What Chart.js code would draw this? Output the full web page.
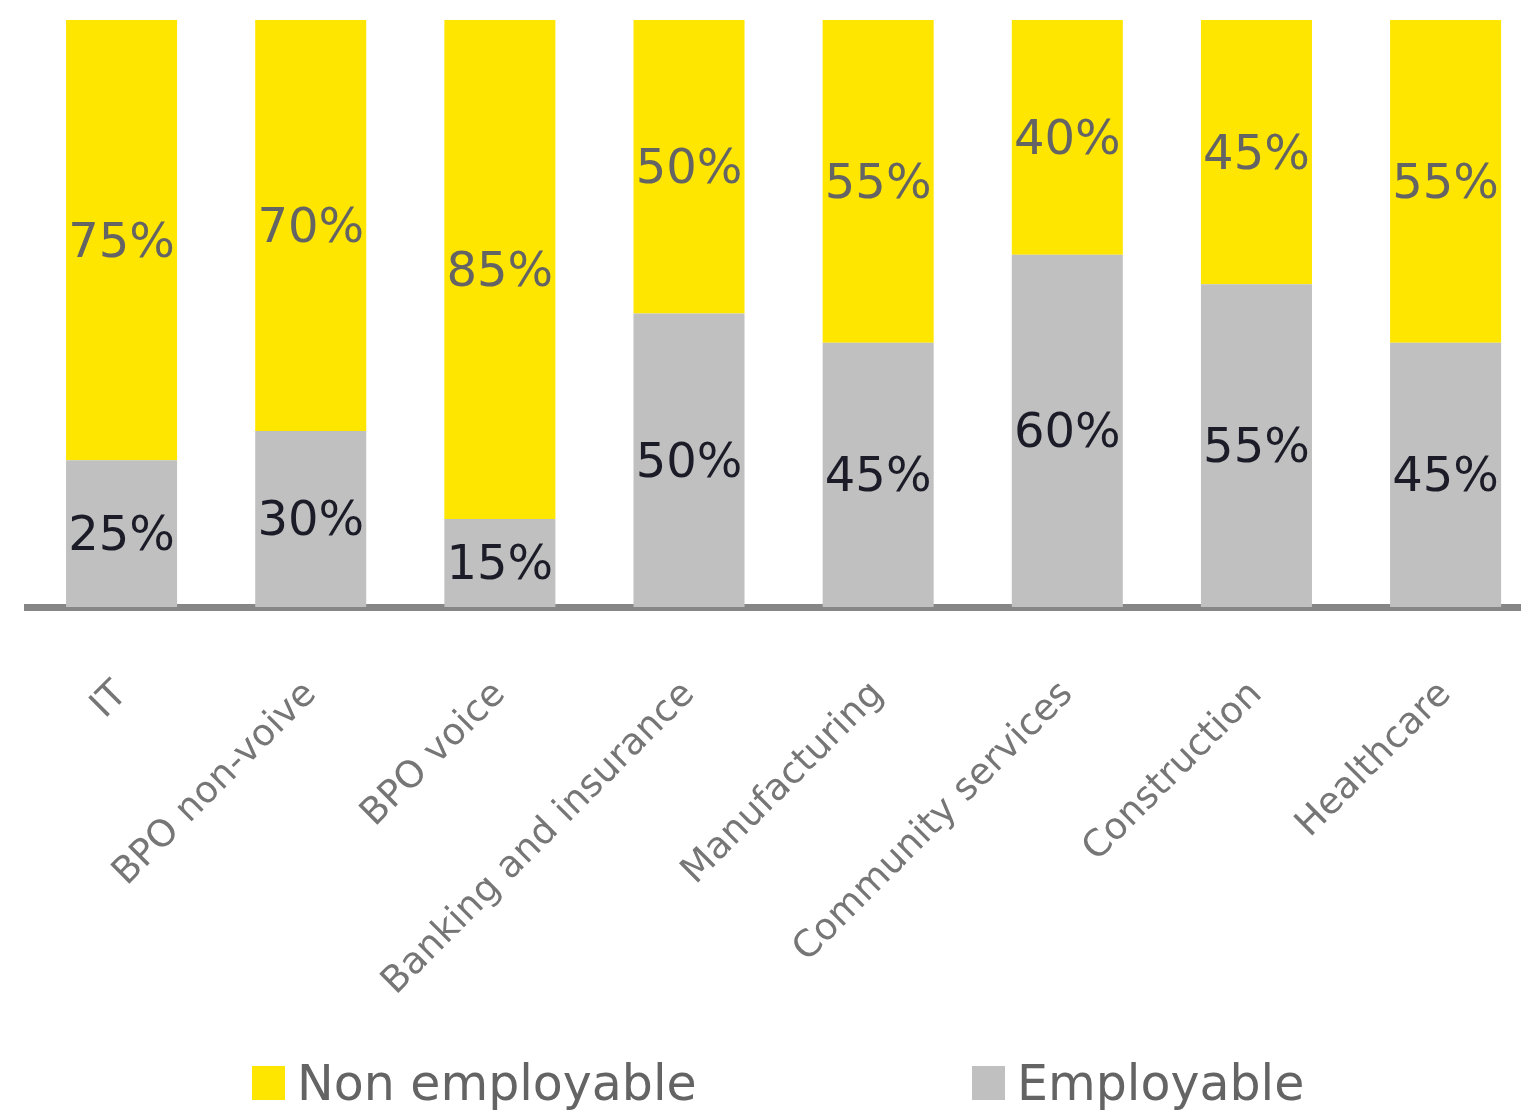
<!DOCTYPE html>
<html>
<head>
<meta charset="utf-8">
<title>Employability by sector</title>
<script src="https://cdn.jsdelivr.net/npm/chart.js@4/dist/chart.umd.min.js"></script>
<style>
    html, body { margin: 0; padding: 0; background: #fff; overflow: hidden; }
    #chart { display: block; }
</style>
</head>
<body>
<canvas id="chart" width="1543" height="1113"></canvas>
<script>
var sectors = ['IT', 'BPO non-voive', 'BPO voice', 'Banking and insurance',
               'Manufacturing', 'Community services', 'Construction', 'Healthcare'];
var employable = [25, 30, 15, 50, 45, 60, 55, 45];
var nonEmployable = [75, 70, 85, 50, 55, 40, 45, 55];
var seriesNames = ['Employable', 'Non employable'];

var FONT = "'DejaVu Sans', Verdana, sans-serif";

// percent labels in the middle of every bar segment
var segmentLabels = {
    id: 'segmentLabels',
    afterDatasetsDraw: function(chart) {
        var ctx = chart.ctx;
        ctx.save();
        ctx.font = '48px ' + FONT;
        ctx.textAlign = 'center';
        ctx.textBaseline = 'middle';
        chart.data.datasets.forEach(function(ds, i) {
            var meta = chart.getDatasetMeta(i);
            ctx.fillStyle = ds.labelColor;
            meta.data.forEach(function(bar, idx) {
                var y = (bar.y + bar.base) / 2;
                ctx.fillText(ds.data[idx] + '%', bar.x, y + 4);
            });
        });
        ctx.restore();
    }
};

// legend at the bottom, Non employable first
var bottomLegend = {
    id: 'bottomLegend',
    afterDraw: function(chart) {
        var ctx = chart.ctx;
        var starts = [252, 972];
        var order = chart.data.datasets.slice().reverse();
        ctx.save();
        ctx.font = '49px ' + FONT;
        ctx.textBaseline = 'middle';
        order.forEach(function(ds, i) {
            ctx.fillStyle = ds.backgroundColor;
            ctx.fillRect(starts[i], 1066, 33, 34);
            ctx.fillStyle = '#646464';
            ctx.textAlign = 'left';
            ctx.fillText(ds.label, starts[i] + 45, 1087);
        });
        ctx.restore();
    }
};

var chart = new Chart(document.getElementById('chart'), {
    type: 'bar',
    data: {
        labels: sectors,
        datasets: [{
            label: seriesNames[0],
            data: employable,
            backgroundColor: '#c0c0c0',
            labelColor: '#1c1c28'
        }, {
            label: seriesNames[1],
            data: nonEmployable,
            backgroundColor: '#ffe600',
            labelColor: '#646464'
        }]
    },
    options: {
        responsive: false,
        animation: false,
        layout: { padding: { top: 20, left: 27, right: 0, bottom: 0 } },
        datasets: {
            bar: { categoryPercentage: 1, barPercentage: 0.587, borderWidth: 0 }
        },
        plugins: {
            legend: { display: false },
            tooltip: { enabled: false }
        },
        scales: {
            x: {
                stacked: true,
                grid: { display: false, drawTicks: false },
                border: { display: true, color: '#868686', width: 7 },
                ticks: {
                    autoSkip: false,
                    minRotation: 45,
                    maxRotation: 45,
                    padding: 66,
                    color: '#767676',
                    font: { family: FONT, size: 37 }
                },
                afterFit: function(scale) { scale.height = 506; }
            },
            y: {
                stacked: true,
                display: false,
                min: 0,
                max: 100
            }
        }
    },
    plugins: [segmentLabels, bottomLegend]
});
</script>
</body>
</html>
